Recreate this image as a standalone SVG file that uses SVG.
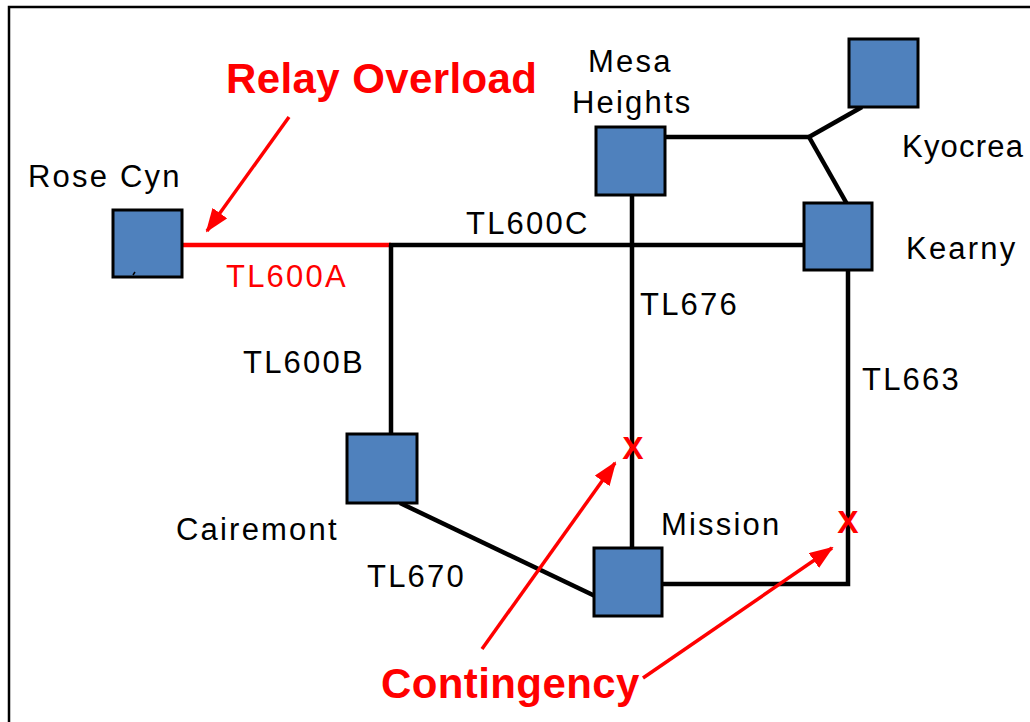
<svg xmlns="http://www.w3.org/2000/svg" width="1030" height="722" viewBox="0 0 1030 722">
<defs>
<style>
.node rect{fill:#4f81bd;stroke:#000;stroke-width:3}
.line{stroke:#000;stroke-width:4.5;fill:none}
.red{stroke:#ff0000;stroke-width:4.5;fill:none}
.arr{stroke:#ff0000;stroke-width:3.5;fill:none;marker-end:url(#ah)}
.lbl{font-family:"Liberation Sans",Arial,sans-serif;font-size:31px;fill:#000;letter-spacing:2.2px}
.rlbl{font-family:"Liberation Sans",Arial,sans-serif;font-size:31px;fill:#ff0000;letter-spacing:2.2px}
.big{font-family:"Liberation Sans",Arial,sans-serif;font-size:42px;font-weight:bold;fill:#ff0000;letter-spacing:0.4px}
.x{font-family:"Liberation Sans",Arial,sans-serif;font-size:32px;font-weight:bold;fill:#ff0000;text-anchor:middle}
</style>
<marker id="ah" markerUnits="userSpaceOnUse" markerWidth="24" markerHeight="18" refX="22" refY="9" orient="auto">
<path d="M0,0 L24,9 L0,18 Z" fill="#ff0000"/>
</marker>
</defs>
<rect x="0" y="0" width="1030" height="722" fill="#fff"/>
<path d="M9,722 V7 H1030" fill="none" stroke="#000" stroke-width="2.5"/>
<g id="connectors">
<line class="red" x1="182" y1="245" x2="391" y2="245"/>
<line class="line" x1="389" y1="245" x2="805" y2="245"/>
<line class="line" x1="391" y1="245" x2="391" y2="435"/>
<line class="line" x1="400" y1="503" x2="595" y2="596"/>
<line class="line" x1="632" y1="196" x2="632" y2="549"/>
<line class="line" x1="665" y1="137" x2="809" y2="137"/>
<line class="line" x1="809" y1="137" x2="862" y2="107"/>
<line class="line" x1="809" y1="137" x2="847" y2="204"/>
<path class="line" d="M848,271 V584 H662"/>
<line class="arr" x1="289" y1="117" x2="207" y2="231"/>
<line class="arr" x1="482" y1="649" x2="615" y2="463"/>
<line class="arr" x1="643" y1="678" x2="832" y2="548"/>
</g>
<g id="rose-cyn" class="node"><rect x="113" y="210" width="69" height="67"/><line x1="133" y1="275" x2="135" y2="272" stroke="#000" stroke-width="1.5"/><text class="lbl" x="28" y="187">Rose Cyn</text></g>
<g id="mesa-heights" class="node"><rect x="596" y="127" width="69" height="68"/><text class="lbl" x="588" y="72">Mesa</text><text class="lbl" x="572" y="113">Heights</text></g>
<g id="kyocrea" class="node"><rect x="849" y="39" width="69" height="68"/><text class="lbl" x="902" y="157" style="letter-spacing:1.2px">Kyocrea</text></g>
<g id="kearny" class="node"><rect x="804" y="203" width="68" height="67"/><text class="lbl" x="906" y="259">Kearny</text></g>
<g id="cairemont" class="node"><rect x="347" y="434" width="70" height="69"/><text class="lbl" x="176" y="540">Cairemont</text></g>
<g id="mission" class="node"><rect x="594" y="548" width="68" height="68"/><text class="lbl" x="661" y="535">Mission</text></g>
<g id="labels">
<text class="big" x="226" y="93">Relay Overload</text>
<text class="big" x="381" y="698">Contingency</text>
<text class="lbl" x="466" y="234">TL600C</text>
<text class="rlbl" x="226" y="287">TL600A</text>
<text class="lbl" x="640" y="315">TL676</text>
<text class="lbl" x="243" y="373">TL600B</text>
<text class="lbl" x="862" y="390">TL663</text>
<text class="lbl" x="367" y="587">TL670</text>
<text class="x" x="633" y="459">X</text>
<text class="x" x="848" y="533">X</text>
</g>
</svg>
